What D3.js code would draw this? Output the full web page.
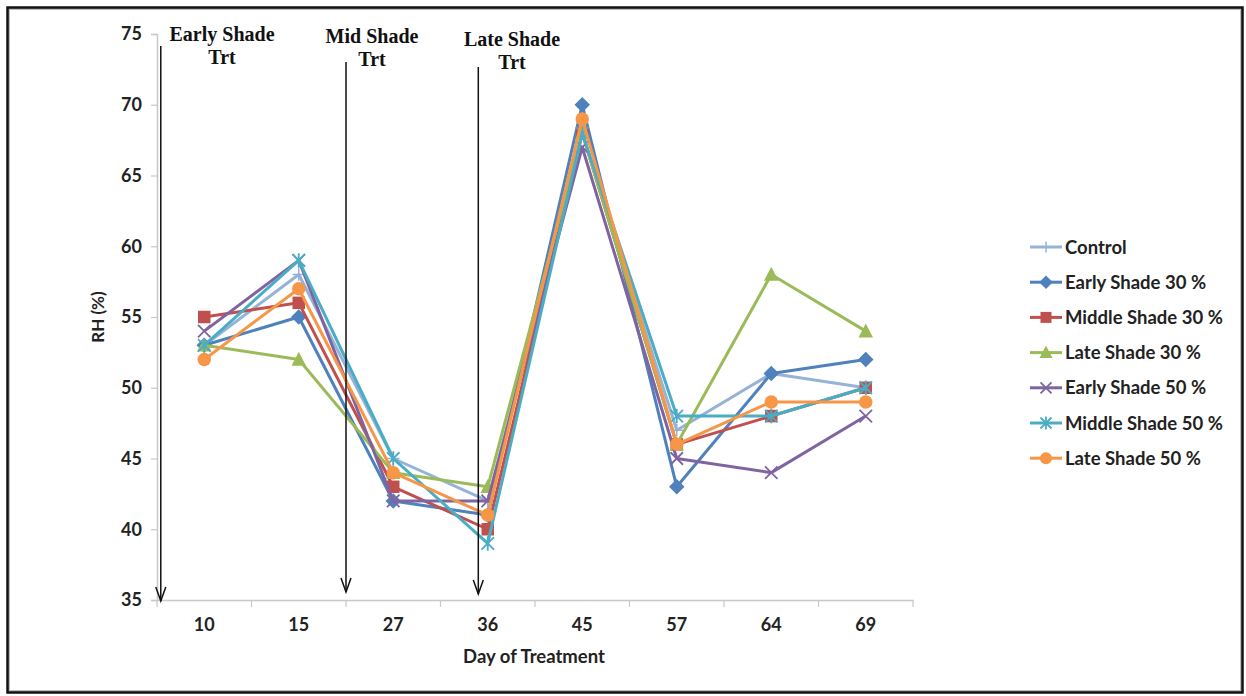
<!DOCTYPE html>
<html>
<head>
<meta charset="utf-8">
<script src="https://cdn.jsdelivr.net/npm/d3@7"></script>
<style>
  html, body { margin: 0; padding: 0; background: #fff; }
  svg { display: block; }
</style>
</head>
<body>
<svg id="chart" width="1246" height="696"></svg>
<script>
// Day of treatment categories
const days = ["10", "15", "27", "36", "45", "57", "64", "69"];

// Relative humidity (%) per treatment
const control      = [53, 58, 45, 42, 68, 47, 51, 50];
const early30      = [53, 55, 42, 41, 70, 43, 51, 52];
const middle30     = [55, 56, 43, 40, 68, 46, 48, 50];
const late30       = [53, 52, 44, 43, 68, 46, 58, 54];
const early50      = [54, 59, 42, 42, 67, 45, 44, 48];
const middle50     = [53, 59, 45, 39, 68, 48, 48, 50];
const late50       = [52, 57, 44, 41, 69, 46, 49, 49];

const seriesNames  = ["Control", "Early Shade 30 %", "Middle Shade 30 %", "Late Shade 30 %",
                      "Early Shade 50 %", "Middle Shade 50 %", "Late Shade 50 %"];
const seriesValues = [control, early30, middle30, late30, early50, middle50, late50];
const seriesColors = ["#95B3D7", "#4F81BD", "#C0504D", "#9BBB59", "#8064A2", "#4BACC6", "#F79646"];
const seriesMarks  = ["plus", "diamond", "square", "triangle", "x", "star", "circle"];

const yTicks = [35, 40, 45, 50, 55, 60, 65, 70, 75];

// Treatment start annotations: label lines, band position of the arrow
const trtLabels = [["Early Shade", "Trt"], ["Mid Shade", "Trt"], ["Late Shade", "Trt"]];
const trtArrowPos = [0.04, 2.0, 3.4];

const svg = d3.select("#chart");

// outer frame
svg.append("rect").attr("x", 9).attr("y", 9).attr("width", 1232).attr("height", 682)
  .attr("fill", "none").attr("stroke", "#bbb").attr("stroke-width", 2);
svg.append("rect").attr("x", 7.5).attr("y", 7.5).attr("width", 1235).attr("height", 685)
  .attr("fill", "none").attr("stroke", "#111").attr("stroke-width", 2.5);

const plotLeft = 157, plotRight = 913, plotTop = 34, plotBottom = 600;

const x = d3.scaleBand().domain(days).range([plotLeft, plotRight]).padding(0);
const cx = d => x(d) + x.bandwidth() / 2;
const y = d3.scaleLinear().domain([35, 75]).range([plotBottom, plotTop]);

const tickFont = "Lato, 'Open Sans', sans-serif";

// y axis
const yAxis = svg.append("g").attr("transform", `translate(${plotLeft},0)`)
  .call(d3.axisLeft(y).tickValues(yTicks).tickSize(6).tickPadding(9));
yAxis.select(".domain").attr("stroke", "#c8c8c8").attr("stroke-width", 1.5);
yAxis.selectAll(".tick line").attr("stroke", "#c8c8c8").attr("stroke-width", 1.2);
yAxis.selectAll(".tick text").attr("font-family", tickFont).attr("font-weight", "bold")
  .attr("font-size", 18).attr("fill", "#222");

// x axis with ticks on the category boundaries
const xAxis = svg.append("g").attr("transform", `translate(0,${plotBottom})`)
  .call(d3.axisBottom(x).tickSize(0).tickPadding(18));
xAxis.select(".domain").attr("stroke", "#c8c8c8").attr("stroke-width", 1.5);
xAxis.selectAll(".tick text").attr("font-family", tickFont).attr("font-weight", "bold")
  .attr("font-size", 18).attr("fill", "#222");
const edges = days.map(d => x(d)).concat([x(days[days.length - 1]) + x.bandwidth()]);
svg.append("g").selectAll("line").data(edges).join("line")
  .attr("x1", d => d).attr("x2", d => d).attr("y1", plotBottom).attr("y2", plotBottom + 7)
  .attr("stroke", "#c8c8c8").attr("stroke-width", 1.2);

// axis titles
svg.append("text").attr("x", 534).attr("y", 663).attr("text-anchor", "middle")
  .attr("font-family", tickFont).attr("font-weight", "bold").attr("font-size", 18.5)
  .attr("fill", "#222").text("Day of Treatment");
svg.append("text").attr("transform", "translate(104,317) rotate(-90)")
  .attr("text-anchor", "middle").attr("font-family", tickFont).attr("font-weight", "bold")
  .attr("font-size", 17).attr("fill", "#222").text("RH (%)");

// marker drawing
function drawMarker(g, type, color, size) {
  const s = size;
  const h = s / 2;
  if (type === "diamond") {
    const r = s * 0.62;
    g.append("path").attr("d", `M0,${-r}L${r},0L0,${r}L${-r},0Z`).attr("fill", color);
  } else if (type === "square") {
    g.append("rect").attr("x", -h).attr("y", -h).attr("width", s).attr("height", s)
      .attr("fill", color);
  } else if (type === "triangle") {
    g.append("path").attr("d", `M0,${-h - 1.5}L${h + 1},${h}L${-h - 1},${h}Z`).attr("fill", color);
  } else if (type === "circle") {
    g.append("circle").attr("r", h + 0.5).attr("fill", color);
  } else if (type === "x") {
    g.append("path").attr("d", `M${-h},${-h}L${h},${h}M${-h},${h}L${h},${-h}`)
      .attr("stroke", color).attr("stroke-width", 1.8).attr("fill", "none");
  } else if (type === "star") {
    g.append("path").attr("d", `M${-h},${-h}L${h},${h}M${-h},${h}L${h},${-h}M0,${-h - 1}L0,${h + 1}`)
      .attr("stroke", color).attr("stroke-width", 1.8).attr("fill", "none");
  } else if (type === "plus") {
    g.append("path").attr("d", `M${-h},0L${h},0M0,${-h}L0,${h}`)
      .attr("stroke", color).attr("stroke-width", 1.5).attr("fill", "none");
  }
}

// series lines and markers
const line = d3.line().x((d, i) => cx(days[i])).y(d => y(d));
seriesValues.forEach((vals, k) => {
  const g = svg.append("g");
  g.append("path").datum(vals).attr("d", line).attr("fill", "none")
    .attr("stroke", seriesColors[k]).attr("stroke-width", 3).attr("stroke-linejoin", "round");
  vals.forEach((v, i) => {
    const m = g.append("g").attr("transform", `translate(${cx(days[i])},${y(v)})`);
    drawMarker(m, seriesMarks[k], seriesColors[k], 12.5);
  });
});

// treatment arrows and labels
const arrowTops = [46, 62, 67];
const arrowBottoms = [601, 592, 594];
const labelX = [222, 372, 512];
const labelY = [41, 43, 46];
trtArrowPos.forEach((p, i) => {
  const ax = plotLeft + p * x.bandwidth();
  const g = svg.append("g");
  g.append("line").attr("x1", ax).attr("x2", ax).attr("y1", arrowTops[i]).attr("y2", arrowBottoms[i])
    .attr("stroke", "#111").attr("stroke-width", 1.5);
  g.append("path").attr("d", `M${ax - 5},${arrowBottoms[i] - 14}L${ax},${arrowBottoms[i]}L${ax + 5},${arrowBottoms[i] - 14}`)
    .attr("stroke", "#111").attr("stroke-width", 1.5).attr("fill", "none");
  const t = g.append("text").attr("text-anchor", "middle")
    .attr("font-family", "'Liberation Serif', 'Times New Roman', serif")
    .attr("font-weight", "bold").attr("font-size", 20).attr("fill", "#111");
  trtLabels[i].forEach((s, j) => {
    t.append("tspan").attr("x", labelX[i]).attr("y", labelY[i] + j * 23).text(s);
  });
});

// legend
const legend = svg.append("g");
seriesNames.forEach((name, k) => {
  const ly = 247 + k * 35.2;
  const g = legend.append("g").attr("transform", `translate(1030,${ly})`);
  g.append("line").attr("x1", 0).attr("x2", 32).attr("y1", 0).attr("y2", 0)
    .attr("stroke", seriesColors[k]).attr("stroke-width", 3);
  const m = g.append("g").attr("transform", "translate(16,0)");
  drawMarker(m, seriesMarks[k], seriesColors[k], 11);
  g.append("text").attr("x", 35).attr("y", 6.5).attr("font-family", tickFont)
    .attr("font-weight", "bold").attr("font-size", 18.5).attr("fill", "#222").text(name);
});
</script>
</body>
</html>
